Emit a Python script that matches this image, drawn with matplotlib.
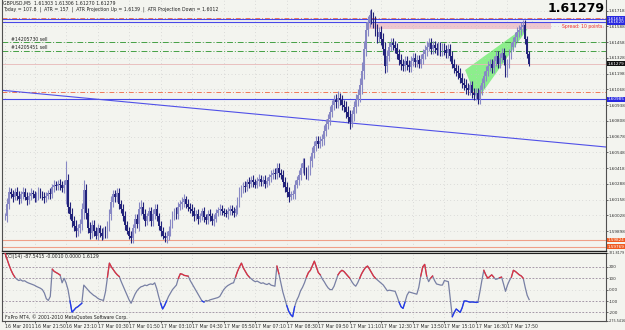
import numpy as np
import matplotlib
matplotlib.use("Agg")
import matplotlib.pyplot as plt
from matplotlib import font_manager
from matplotlib.patches import Polygon, Rectangle
from matplotlib.transforms import blended_transform_factory

# GBPUSD M5 closes, pips above 1.6000 (16 bars per row)
close_pips = [
    2, 12, 22, 20, 18, 22, 19, 16, 20, 22, 18, 15, 19, 21, 20, 17,
    19, 22, 20, 18, 17, 19, 21, 20, 26, 28, 27, 29, 28, 25, 28, 32,
    10, 4, -2, -6, -10, -8, -4, 8, 24, 5, -8, -12, -5, -10, -14, -8,
    -12, -14, -10, -12, -6, 4, 14, 20, 18, 21, 12, 8, 2, -5, -10, -14,
    -16, -8, 0, -4, 8, 10, 4, -2, 2, 6, -2, 4, 8, 2, -6, -10,
    -14, -16, -14, -10, -4, 2, 6, 4, 10, 12, 14, 16, 12, 10, 8, 6,
    2, 4, 0, 2, 6, 1, -1, 4, 2, -2, 0, 5, 7, 8, 6, 5,
    4, 6, 8, 6, 5, 8, 14, 22, 24, 27, 26, 30, 29, 32, 30, 28,
    31, 33, 30, 32, 29, 31, 34, 36, 38, 37, 42, 38, 36, 30, 26, 22,
    18, 20, 20, 28, 32, 36, 42, 46, 40, 36, 40, 48, 54, 60, 64, 62,
    64, 66, 72, 78, 82, 88, 94, 98, 96, 100, 98, 94, 92, 88, 84, 80,
    86, 92, 98, 102, 110, 122, 140, 156, 162, 168, 166, 162, 156, 150, 154, 148,
    140, 126, 134, 142, 145, 143, 141, 136, 131, 128, 126, 130, 127, 125, 130, 133,
    129, 131, 128, 132, 136, 139, 142, 145, 140, 143, 141, 139, 142, 138, 141, 139,
    137, 140, 134, 128, 124, 122, 120, 116, 112, 110, 108, 106, 110, 104, 102, 104,
    99, 106, 112, 118, 122, 126, 128, 124, 130, 134, 128, 133, 137, 131, 121, 128,
    136, 142, 146, 150, 154, 156, 158, 160, 148, 136, 127.9,
]
wick_pips = [
    3, 5, 4, 3, 4, 3, 4, 4, 3, 4, 3, 4, 3, 4, 3, 3,
    3, 4, 3, 3, 4, 3, 3, 4, 3, 4, 3, 3, 4, 3, 4, 16,
    5, 4, 5, 4, 5, 4, 4, 5, 8, 5, 4, 5, 4, 4, 3, 4,
    3, 4, 3, 4, 4, 4, 5, 4, 4, 4, 4, 3, 4, 4, 3, 3,
    4, 4, 4, 4, 6, 5, 4, 4, 3, 4, 4, 4, 4, 4, 3, 4,
    3, 3, 4, 4, 4, 4, 3, 4, 4, 3, 4, 4, 3, 4, 3, 4,
    4, 3, 4, 3, 3, 4, 3, 3, 4, 3, 4, 3, 3, 4, 3, 3,
    3, 4, 3, 3, 4, 3, 4, 4, 4, 3, 4, 3, 4, 3, 4, 3,
    3, 4, 3, 3, 4, 3, 3, 4, 3, 4, 4, 4, 3, 4, 4, 4,
    4, 3, 4, 4, 3, 4, 4, 4, 4, 3, 4, 4, 5, 4, 4, 4,
    4, 4, 5, 4, 4, 5, 4, 4, 5, 5, 4, 4, 4, 5, 5, 6,
    4, 5, 5, 5, 6, 7, 7, 6, 5, 4, 5, 5, 5, 5, 4, 5,
    5, 6, 5, 4, 4, 4, 4, 4, 4, 5, 4, 4, 4, 4, 4, 4,
    4, 4, 4, 4, 4, 4, 5, 4, 4, 4, 4, 4, 4, 4, 4, 4,
    4, 4, 4, 4, 4, 4, 5, 4, 4, 4, 5, 4, 4, 4, 4, 4,
    4, 4, 4, 4, 4, 4, 4, 4, 4, 4, 4, 4, 4, 4, 4, 4,
    4, 4, 4, 4, 4, 4, 4, 4, 4, 3, 2,
]
cci = [
    321.8179, 270, 220, 175, 138, 110, 92, 80, 86, 75, 78, 66, 58, 52, 45, 38,
    28, 20, 12, 0, -30, -80, -95, -60, 180, 160, 150, 140, 128, 60, 100, 60,
    0, -100, -198, -180, -160, -150, -135, -120, 40, 20, 0, -20, -35, -50, -60, -75,
    -85, -90, -95, -20, 110, 233, 200, 175, 150, 130, 115, 70, 30, -10, -50, -90,
    -120, -80, -40, -10, 10, 25, 30, 40, 35, 45, 50, 45, 60, 10, -60, -120,
    -170, -140, -100, -60, -30, 0, 20, 40, 100, 140, 135, 125, 122, 118, 80, 50,
    20, -10, -40, -70, -100, -109, -95, -100, -90, -85, -80, -75, -70, -60, -30, 0,
    20, 35, 45, 55, 60, 110, 160, 200, 233, 190, 160, 130, 110, 95, 80, 70,
    75, 65, 55, 60, 50, 45, 55, 40, 35, 30, 207, 140, 60, -20, -80, -140,
    -190, -220, -238, -150, -95, -60, -10, 20, 60, 110, 150, 170, 210, 250, 200, 150,
    130, 95, 70, 40, 15, 0, 0, 30, 80, 130, 155, 170, 160, 140, 120, 100,
    70, 45, 30, 60, 100, 140, 170, 195, 207, 180, 150, 120, 100, 85, 70, 55,
    40, 15, -10, -5, -8, -12, -15, -60, -110, -150, -165, -110, -50, -20, -25, -30,
    -35, -40, 20, 120, 200, 222, 120, 70, 100, 120, 80, 50, 45, 40, 40, 80,
    75, 70, -80, -238, -200, -170, -185, -200, -160, -100, -100, -105, -110, -108, -110, -112,
    -110, -20, 80, 170, 130, 100, 115, 130, 110, 90, 95, 105, 110, 50, -15, 40,
    80, 110, 170, 160, 145, 130, 120, 100, 20, -50, -87.5415,
]

time_ticks = [0, 15, 31, 47, 63, 79, 95, 111, 127, 143, 159, 175, 191, 207, 223, 239, 255]
time_labels = ["16 Mar 2011", "16 Mar 21:50", "16 Mar 23:10", "17 Mar 00:30", "17 Mar 01:50",
               "17 Mar 03:10", "17 Mar 04:30", "17 Mar 05:50", "17 Mar 07:10", "17 Mar 08:30",
               "17 Mar 09:50", "17 Mar 11:10", "17 Mar 12:30", "17 Mar 13:50", "17 Mar 15:10",
               "17 Mar 16:30", "17 Mar 17:50"]
price_ticks = [1.61718, 1.61588, 1.61458, 1.61328, 1.61198, 1.61068, 1.60938, 1.60808,
               1.60678, 1.60548, 1.60418, 1.60288, 1.60158, 1.60028, 1.59898]
cci_ticks = [321.8179, 200, 100, 0, -100, -200, -275.5416]
cci_tick_labels = ["321.8179", "200", "100", "0.00", "-100", "-200", "-275.5416"]

# chart objects
last_price = 1.61279
blue_levels = [1.61652, 1.61620, 1.60985]
orange_dash_levels = [1.61660, 1.61043]
low_levels = [1.59824, 1.59769]
order_levels = [1.61457, 1.61388]
order_names = ["#14205730 sell", "#14205451 sell"]
trend_x = [-1, 306]
trend_p = [1.61059, 1.60590]
wedge_x = [233.5, 268, 239.6]
wedge_p = [1.61227, 1.61631, 1.60980]
spread_x = [184, 277]
spread_p = [1.61562, 1.61617]

# pick narrow fonts if they are there
fm = font_manager.fontManager.ttflist
names = {f.name for f in fm}
if "Liberation Sans Narrow" in names:
    small_font = dict(family="Liberation Sans Narrow", size=4.0)
    scale_font = dict(family="Liberation Sans Narrow", size=3.6)
    big_font = dict(family="Liberation Sans Narrow", weight="bold", size=13)
else:
    small_font = dict(family="DejaVu Sans", size=3.3)
    scale_font = dict(family="DejaVu Sans", size=3.0)
    big_font = dict(family="DejaVu Sans", weight="bold", size=9)

bg = "#F3F4EF"
fig = plt.figure(figsize=(6.25, 3.3), dpi=100, facecolor=bg)
W, H = 625, 330
ax = fig.add_axes([2 / W, 1 - 251 / H, 604 / W, 251 / H], facecolor=bg)
ax2 = fig.add_axes([2 / W, 1 - 321 / H, 604 / W, 68 / H], facecolor=bg)

close = 1.6 + np.array(close_pips) / 10000
wick = np.array(wick_pips) / 10000
opn = np.r_[close[0], close[:-1]]
hi = np.maximum(opn, close) + wick
lo = np.minimum(opn, close) - wick
x = np.arange(len(close))
up = close >= opn
cols = np.where(up, "#8888C4", "#22227A")

grid_kw = dict(color="#C4C4C4", linestyle=(0, (1, 4)), linewidth=0.5)

# main price panel
ax.add_patch(Polygon(np.column_stack([wedge_x, wedge_p]), closed=True,
                     facecolor="#8CEE8C", edgecolor="none", zorder=1))
ax.add_patch(Rectangle((spread_x[0], spread_p[0]), spread_x[1] - spread_x[0],
                       spread_p[1] - spread_p[0], facecolor="#EEC6CE",
                       edgecolor="none", zorder=1))
for p in orange_dash_levels:
    ax.axhline(p, color="#F07A5A", lw=0.7, ls=(0, (5, 2, 1, 2)), zorder=2)
for p in blue_levels:
    ax.axhline(p, color="#4848E8", lw=0.8, zorder=2)
for p in low_levels:
    ax.axhline(p, color="#F0A088", lw=0.8, zorder=2)
for p, name in zip(order_levels, order_names):
    ax.axhline(p, color="#44A044", lw=0.7, ls=(0, (6, 2, 1, 2)), zorder=2)
    ax.text(3, p + 0.00002, name, va="bottom", ha="left", color="#202020", **small_font)
ax.axhline(last_price, color="#E8B8B8", lw=0.6, zorder=2)
ax.plot(trend_x, trend_p, color="#5050E8", lw=0.8, zorder=2)

ax.vlines(x, lo, hi, colors=cols, lw=0.8, zorder=3)
body = np.where(np.abs(close - opn) < 0.00003, 0.00003, close - opn)
ax.bar(x, body, bottom=np.where(np.abs(close - opn) < 0.00003, opn - 0.000015, opn),
       width=0.9, color=cols, edgecolor="none", zorder=3)

btr = blended_transform_factory(ax.transAxes, ax.transData)
ax.text(0.997, 1.61590, "Spread: 10 points.", color="#F03030", ha="right", va="center",
        transform=btr, zorder=6, **small_font)

ax.set_xlim(-1.5, 305)
ax.set_ylim(1.59733, 1.61805)
ax.yaxis.tick_right()
ax.set_yticks(price_ticks)
ax.set_yticklabels([f"{p:.5f}" for p in price_ticks], **scale_font)
ax.set_xticks(time_ticks)
ax.set_xticklabels([])
ax.tick_params(axis="y", length=1.5, width=0.5, pad=0.3, colors="#303030")
ax.tick_params(axis="x", length=0)
ax.grid(True, **grid_kw)
for s in ["left", "right"]:
    ax.spines[s].set_color("#505050")
    ax.spines[s].set_linewidth(0.8)
ax.spines["top"].set_visible(False)
ax.spines["bottom"].set_color("#202020")
ax.spines["bottom"].set_linewidth(1.0)

# price boxes on the scale
box_items = [(blue_levels[0], "#2828E0"), (blue_levels[1], "#2828E0"), (blue_levels[2], "#2828E0"),
             (last_price, "#101010"), (low_levels[0], "#F05A20"), (low_levels[1], "#F05A20")]
for p, c in box_items:
    ax.text(1.0025, p, f"{p:.5f}", transform=btr, color="white", ha="left",
            va="center", clip_on=False, zorder=6,
            bbox=dict(boxstyle="square,pad=0.1", facecolor=c, edgecolor="none"), **scale_font)

# header texts
fig.text(3 / W, 1 - 1 / H, "GBPUSD,M5  1.61303 1.61306 1.61270 1.61279",
         va="top", ha="left", color="#202020", **small_font)
fig.text(3 / W, 1 - 7 / H,
         "Today = 107.8  |  ATR = 157  |  ATR Projection Up = 1.6139  |  ATR Projection Down = 1.6012",
         va="top", ha="left", color="#202020", **small_font)
fig.text(605 / W, 1 - 2 / H, "1.61279", va="top", ha="right", color="black",
         fontfamily=big_font["family"], fontweight=big_font["weight"], fontsize=big_font["size"])

# CCI panel
cci = np.array(cci, dtype=float)
xc = np.arange(len(cci))
ax2.plot(xc, cci, color="#7880A4", lw=0.9, zorder=3)
ax2.plot(xc, np.where(cci >= 100, cci, np.nan), color="#E03040", lw=0.9, zorder=4)
ax2.plot(xc, np.where(cci <= -100, cci, np.nan), color="#2038F0", lw=0.9, zorder=4)
for lvl in [200, 100, -100, -200]:
    ax2.axhline(lvl, color="#9A8A9E", lw=0.6, ls=(0, (2, 2)), zorder=2)
ax2.set_xlim(-1.5, 305)
ax2.set_ylim(-275.5416, 321.8179)
ax2.yaxis.tick_right()
ax2.set_yticks(cci_ticks)
ax2.set_yticklabels(cci_tick_labels, **scale_font)
# the min/max labels are longer, keep them inside the window
ylabs = ax2.get_yticklabels()
ylabs[0].set_fontsize(scale_font["size"] * 0.8)
ylabs[-1].set_fontsize(scale_font["size"] * 0.8)
ax2.set_xticks(time_ticks)
ax2.set_xticklabels(time_labels, ha="left", **small_font)
ax2.tick_params(axis="both", length=1.5, width=0.5, pad=0.3, colors="#303030")
ax2.grid(True, **grid_kw)
for s in ["left", "right", "bottom"]:
    ax2.spines[s].set_color("#505050")
    ax2.spines[s].set_linewidth(0.8)
ax2.spines["top"].set_color("#202020")
ax2.text(0.005, 0.985, "CCI(14) -87.5415 -0.0010 0.0000 1.6129", transform=ax2.transAxes,
         va="top", ha="left", color="#202020", **small_font)
ax2.text(0.005, 0.02, "FxPro MT4, \u00a9 2001-2010 MetaQuotes Software Corp.", transform=ax2.transAxes,
         va="bottom", ha="left", color="#202020", **small_font)

fig.savefig("out.png", dpi=100, facecolor=bg)
